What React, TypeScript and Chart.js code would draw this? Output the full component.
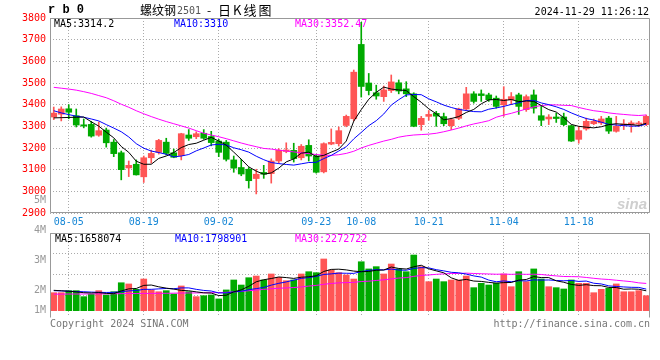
import React, { useEffect, useRef } from "react";
import { Chart, registerables } from "chart.js";
Chart.register(...registerables);

// ---------- data ----------
const DATES = [
  "08-01","08-02","08-05","08-06","08-07","08-08","08-09","08-12","08-13","08-14",
  "08-15","08-16","08-19","08-20","08-21","08-22","08-23","08-26","08-27","08-28",
  "08-29","08-30","09-02","09-03","09-04","09-05","09-06","09-09","09-10","09-11",
  "09-12","09-13","09-18","09-19","09-20","09-23","09-24","09-25","09-26","09-27",
  "09-30","10-08","10-09","10-10","10-11","10-14","10-15","10-16","10-17","10-18",
  "10-21","10-22","10-23","10-24","10-25","10-28","10-29","10-30","10-31","11-01",
  "11-04","11-05","11-06","11-07","11-08","11-11","11-12","11-13","11-14","11-15",
  "11-18","11-19","11-20","11-21","11-22","11-25","11-26","11-27","11-28","11-29",
];
const DATE_TICKS = ["08-05","08-19","09-02","09-23","10-08","10-21","11-04","11-18"];

const OPEN = [
  3343,3356,3381,3349,3307,3309,3259,3283,3227,3178,
  3108,3125,3067,3155,3180,3227,3178,3165,3260,3252,
  3268,3253,3232,3227,3145,3110,3102,3059,3087,3082,
  3140,3184,3189,3155,3212,3163,3090,3218,3220,3304,
  3335,3678,3500,3455,3437,3465,3501,3473,3450,3308,
  3346,3360,3345,3303,3337,3380,3450,3450,3445,3430,
  3399,3422,3445,3377,3445,3349,3334,3343,3343,3303,
  3240,3288,3312,3316,3338,3277,3305,3307,3311,3308,
];
const HIGH = [
  3389,3390,3400,3380,3334,3323,3320,3292,3239,3186,
  3140,3145,3163,3190,3240,3245,3195,3268,3285,3275,
  3285,3277,3240,3235,3163,3148,3110,3102,3120,3150,
  3197,3224,3222,3216,3238,3171,3224,3288,3297,3352,
  3560,3780,3544,3490,3486,3537,3514,3506,3455,3346,
  3373,3369,3361,3338,3384,3480,3460,3468,3453,3440,
  3483,3456,3453,3445,3468,3392,3354,3361,3361,3305,
  3300,3338,3334,3346,3346,3346,3331,3325,3323,3352,
];
const LOW = [
  3331,3325,3335,3297,3293,3250,3254,3204,3160,3053,
  3068,3075,3041,3130,3172,3168,3155,3145,3235,3243,
  3240,3210,3160,3140,3088,3072,3015,2988,3060,3038,
  3130,3178,3135,3145,3140,3084,3085,3215,3209,3298,
  3325,3435,3445,3425,3415,3456,3450,3437,3298,3282,
  3328,3300,3303,3285,3331,3373,3407,3415,3415,3384,
  3346,3400,3355,3369,3361,3303,3308,3318,3303,3230,
  3222,3282,3308,3308,3267,3273,3285,3273,3300,3303,
];
const CLOSE = [
  3361,3380,3365,3306,3301,3255,3280,3224,3174,3100,
  3120,3076,3155,3175,3235,3175,3157,3266,3245,3266,
  3245,3225,3180,3148,3107,3080,3049,3079,3079,3140,
  3190,3191,3151,3208,3163,3088,3220,3226,3280,3346,
  3550,3484,3465,3440,3468,3505,3463,3450,3300,3337,
  3355,3347,3312,3331,3380,3450,3415,3442,3423,3392,
  3425,3437,3392,3437,3384,3328,3343,3336,3308,3232,
  3280,3323,3323,3334,3278,3300,3311,3316,3315,3346,
];
const MA5 = [
  3339,3340,3341,3342,3343,3321,3301,3273,3247,3207,
  3180,3139,3125,3125,3152,3163,3179,3202,3216,3222,
  3236,3249,3232,3213,3181,3148,3113,3093,3079,3085,
  3107,3136,3150,3176,3181,3160,3166,3181,3195,3232,
  3324,3377,3425,3457,3481,3472,3468,3465,3437,3411,
  3381,3358,3330,3336,3345,3364,3378,3404,3422,3424,
  3419,3424,3414,3417,3415,3396,3377,3366,3340,3309,
  3300,3296,3293,3298,3308,3312,3309,3308,3304,3314.2,
];
const MA10 = [
  3372,3362,3354,3347,3342,3334,3325,3308,3292,3275,
  3251,3220,3199,3186,3179,3171,3159,3163,3170,3187,
  3200,3214,3217,3214,3201,3192,3181,3162,3146,3133,
  3128,3124,3121,3127,3133,3134,3151,3166,3186,3206,
  3242,3272,3303,3326,3357,3398,3423,3445,3447,3446,
  3427,3413,3398,3387,3378,3373,3368,3367,3379,3385,
  3392,3401,3409,3419,3420,3408,3400,3390,3378,3362,
  3348,3336,3329,3319,3309,3306,3303,3301,3301,3310,
];
const MA30 = [
  3480,3476,3472,3467,3460,3452,3442,3432,3418,3402,
  3388,3372,3358,3345,3333,3322,3312,3302,3292,3280,
  3268,3260,3252,3243,3233,3223,3214,3206,3198,3195,
  3190,3186,3182,3178,3174,3170,3167,3166,3169,3175,
  3185,3200,3212,3222,3232,3240,3250,3256,3260,3262,
  3264,3268,3275,3283,3292,3302,3311,3318,3326,3342,
  3352,3360,3370,3380,3390,3396,3399,3399,3397,3396,
  3387,3379,3372,3368,3362,3358,3355,3352,3350,3352.47,
];

// volume in millions of lots
const VOLUME = [
  1.50,1.50,1.67,1.67,1.17,1.37,1.67,1.31,1.58,2.33,
  2.23,1.78,2.64,1.73,1.58,1.67,1.39,2.06,1.58,1.17,
  1.25,1.31,0.98,1.73,2.56,2.14,2.75,2.89,2.56,3.06,
  2.78,2.50,2.56,3.06,3.25,3.17,4.31,3.39,3.17,2.98,
  2.64,4.08,3.48,3.67,3.06,3.89,3.48,3.25,4.64,3.67,
  2.42,2.64,2.42,2.56,2.56,2.89,1.92,2.28,2.14,2.28,
  3.06,2.00,3.25,2.42,3.48,2.64,2.00,1.92,1.81,2.56,
  2.28,2.28,1.50,1.78,1.87,2.23,1.58,1.58,1.67,1.25,
];
const VMA5 = [
  1.70,1.66,1.62,1.57,1.50,1.48,1.51,1.44,1.42,1.65,
  1.82,1.85,2.11,2.14,1.99,1.88,1.80,1.69,1.66,1.57,
  1.49,1.47,1.26,1.29,1.57,1.74,2.03,2.41,2.58,2.68,
  2.81,2.76,2.69,2.79,2.83,2.91,3.27,3.44,3.46,3.40,
  3.30,3.25,3.27,3.37,3.39,3.64,3.52,3.47,3.66,3.79,
  3.49,3.32,3.16,2.74,2.52,2.61,2.47,2.44,2.36,2.30,
  2.34,2.35,2.55,2.60,2.84,2.76,2.76,2.49,2.37,2.19,
  2.11,2.17,2.09,2.08,1.94,1.93,1.79,1.81,1.79,1.658,
];
const VMA10 = [
  1.67,1.65,1.62,1.60,1.58,1.55,1.53,1.52,1.53,1.58,
  1.65,1.68,1.78,1.78,1.82,1.85,1.83,1.90,1.90,1.78,
  1.69,1.64,1.48,1.48,1.57,1.62,1.75,1.84,1.94,2.13,
  2.28,2.40,2.55,2.69,2.76,2.86,3.02,3.07,3.13,3.12,
  3.11,3.26,3.36,3.42,3.40,3.47,3.39,3.37,3.52,3.59,
  3.57,3.42,3.32,3.20,3.16,3.05,2.90,2.80,2.55,2.41,
  2.48,2.41,2.50,2.48,2.57,2.55,2.56,2.52,2.49,2.52,
  2.44,2.47,2.29,2.23,2.07,2.02,1.98,1.95,1.94,1.799,
];
const VMA30 = [
  1.38,1.38,1.39,1.39,1.39,1.40,1.40,1.40,1.41,1.42,
  1.43,1.43,1.44,1.44,1.45,1.45,1.46,1.47,1.48,1.48,
  1.49,1.50,1.51,1.53,1.57,1.61,1.66,1.72,1.78,1.83,
  1.87,1.90,1.93,1.98,2.05,2.11,2.20,2.27,2.32,2.34,
  2.36,2.43,2.46,2.52,2.57,2.65,2.72,2.76,2.86,2.94,
  2.98,3.03,3.07,3.10,3.10,3.13,3.10,3.08,3.06,3.04,
  3.05,3.03,3.05,3.03,3.04,3.02,2.95,2.90,2.85,2.84,
  2.83,2.77,2.70,2.64,2.60,2.54,2.48,2.42,2.32,2.273,
];

const PRICE_MIN = 2900;
const PRICE_MAX = 3800;
const PRICE_STEP = 100;
const VOL_AXIS_LABELS = [1, 2, 3, 4, 5];

const TITLE_CODE = "r b 0";
const TITLE_NAME = "螺纹钢";
const TITLE_NUM = "2501";
const TITLE_DASH = "-";
const TITLE_KIND = "日K线图";
const TIMESTAMP = "2024-11-29 11:26:12";
const PRICE_LEGEND = ["MA5:3314.2", "MA10:3310", "MA30:3352.47"];
const VOL_LEGEND = ["MA5:1658074", "MA10:1798901", "MA30:2272722"];
const COPYRIGHT = "Copyright 2024 SINA.COM";
const SITE = "http://finance.sina.com.cn";

// ---------- styles ----------
const MONO = "'DejaVu Sans Mono', monospace";
const CJK = "'Noto Sans CJK SC', sans-serif";
const UP = "#ff5555";
const DOWN = "#00aa00";
const GRID = "#aaaaaa";
const FRAME = "#999999";
const MA_COLORS = ["#000000", "#0000ff", "#ff00ff"];
const candleColors = CLOSE.map((c, i) => (c >= OPEN[i] ? UP : DOWN));

function keepDateTicks(scale: any) {
  scale.ticks = scale.ticks.filter((t: any) => DATE_TICKS.includes(DATES[t.value]));
}

function maLine(label: string, data: number[], color: string, yAxisID: string) {
  return {
    type: "line" as const,
    label,
    data,
    yAxisID,
    borderColor: color,
    borderWidth: 1,
    pointRadius: 0,
    tension: 0,
    order: 0,
  };
}

function crispFrame(ctx: CanvasRenderingContext2D, a: any, bottomExtra: number, drawBottom: boolean) {
  const L = Math.floor(a.left) + 0.5;
  const R = Math.ceil(a.right) - 0.5;
  const T = Math.floor(a.top) + 0.5;
  const B = Math.ceil(a.bottom) - 0.5 + bottomExtra;
  ctx.save();
  ctx.strokeStyle = FRAME;
  ctx.lineWidth = 1;
  ctx.beginPath();
  ctx.moveTo(L, B);
  ctx.lineTo(L, T);
  ctx.lineTo(R, T);
  ctx.lineTo(R, B);
  if (drawBottom) ctx.lineTo(L, B);
  ctx.stroke();
  ctx.restore();
}

const pricePlugin = {
  id: "priceDecor",
  afterDraw(chart: any) {
    const ctx = chart.ctx as CanvasRenderingContext2D;
    const a = chart.chartArea;
    crispFrame(ctx, a, 0, true);
    ctx.save();
    ctx.textBaseline = "middle";
    ctx.textAlign = "left";
    ctx.fillStyle = "#000";
    ctx.font = `bold 12px 'Liberation Mono', monospace`;
    ctx.fillText(TITLE_CODE, 48, 10);
    let x = 140;
    ctx.font = `12px ${CJK}`;
    ctx.fillText(TITLE_NAME, x, 10);
    x += ctx.measureText(TITLE_NAME).width + 1;
    ctx.fillStyle = "#555";
    ctx.font = `10px ${MONO}`;
    ctx.fillText(TITLE_NUM, x, 11);
    ctx.fillStyle = "#000";
    ctx.font = `12px ${CJK}`;
    ctx.fillText(TITLE_DASH, 207, 10);
    (ctx as any).letterSpacing = "2px";
    ctx.font = `13px ${CJK}`;
    ctx.fillText(TITLE_KIND, 218, 10);
    (ctx as any).letterSpacing = "0px";
    ctx.font = `10px ${MONO}`;
    ctx.textAlign = "right";
    ctx.fillText(TIMESTAMP, 649, 12);
    ctx.textAlign = "left";
    const ly = a.top + 6;
    const lx = [a.left + 4, a.left + 124, a.left + 245];
    PRICE_LEGEND.forEach((t, i) => {
      ctx.fillStyle = MA_COLORS[i];
      ctx.fillText(t, lx[i], ly);
    });
    ctx.fillStyle = "#cfcfcf";
    ctx.font = `italic bold 15px 'Liberation Sans', sans-serif`;
    ctx.textAlign = "right";
    ctx.textBaseline = "alphabetic";
    ctx.fillText("sina", a.right - 3, a.bottom - 4);
    ctx.restore();
  },
};

const volPlugin = {
  id: "volDecor",
  afterDraw(chart: any) {
    const ctx = chart.ctx as CanvasRenderingContext2D;
    const a = chart.chartArea;
    crispFrame(ctx, a, 2, false);
    const lab = chart.scales.lab;
    const base = chart.scales.y.getPixelForValue(0);
    ctx.save();
    ctx.textBaseline = "middle";
    ctx.font = `10px ${MONO}`;
    ctx.textAlign = "right";
    ctx.fillStyle = "#999";
    VOL_AXIS_LABELS.forEach((v) => {
      const y = Math.min(lab.getPixelForValue(v), base);
      ctx.fillText(v + "M", a.left - 4, y);
    });
    ctx.textAlign = "left";
    const ly = a.top + 6;
    const lx = [a.left + 5, a.left + 125, a.left + 245];
    VOL_LEGEND.forEach((t, i) => {
      ctx.fillStyle = MA_COLORS[i];
      ctx.fillText(t, lx[i], ly);
    });
    ctx.fillStyle = "#777";
    ctx.fillText(COPYRIGHT, a.left, a.bottom + 8);
    ctx.textAlign = "right";
    ctx.fillText(SITE, a.right, a.bottom + 8);
    ctx.restore();
  },
};

function priceConfig(): any {
  return {
    type: "bar",
    data: {
      labels: DATES,
      datasets: [
        maLine("MA5", MA5, MA_COLORS[0], "y"),
        maLine("MA10", MA10, MA_COLORS[1], "y"),
        maLine("MA30", MA30, MA_COLORS[2], "y"),
        {
          type: "bar",
          label: "body",
          data: OPEN.map((o, i) => [o, CLOSE[i]]),
          backgroundColor: candleColors,
          barThickness: 6,
          minBarLength: 1,
          grouped: false,
          order: 1,
        },
        {
          type: "bar",
          label: "wick",
          data: LOW.map((l, i) => [l, HIGH[i]]),
          backgroundColor: candleColors,
          barThickness: 1,
          grouped: false,
          order: 2,
        },
      ],
    },
    options: {
      animation: false,
      responsive: false,
      devicePixelRatio: 1,
      layout: { padding: { top: 18, right: 10, left: 0, bottom: 0 } },
      plugins: { legend: { display: false }, tooltip: { enabled: false } },
      scales: {
        x: {
          type: "category",
          axis: "x",
          offset: true,
          afterBuildTicks: keepDateTicks,
          afterFit: (s: any) => { s.height = 19; },
          grid: { offset: false, color: GRID, drawTicks: false },
          border: { display: false, dash: [1, 2] },
          ticks: { autoSkip: false, maxRotation: 0, padding: 3, color: "#1787d6", font: { family: MONO, size: 10 } },
        },
        y: {
          type: "linear",
          axis: "y",
          min: PRICE_MIN,
          max: PRICE_MAX,
          afterFit: (s: any) => { s.width = 50; },
          grid: { color: GRID, drawTicks: false },
          border: { display: false, dash: [1, 2] },
          ticks: {
            stepSize: PRICE_STEP,
            padding: 4,
            color: "#ff0000",
            font: { family: MONO, size: 10 },
            callback: (v: any) => String(v),
          },
        },
      },
    },
    plugins: [pricePlugin],
  };
}

function volConfig(): any {
  return {
    type: "bar",
    data: {
      labels: DATES,
      datasets: [
        maLine("MA5", VMA5, MA_COLORS[0], "y"),
        maLine("MA10", VMA10, MA_COLORS[1], "y"),
        maLine("MA30", VMA30, MA_COLORS[2], "y"),
        {
          type: "bar",
          label: "volume",
          data: VOLUME,
          yAxisID: "y",
          backgroundColor: candleColors,
          barThickness: 6,
          order: 1,
        },
      ],
    },
    options: {
      animation: false,
      responsive: false,
      devicePixelRatio: 1,
      layout: { padding: { top: 43, right: 10, left: 50, bottom: 44 } },
      plugins: { legend: { display: false }, tooltip: { enabled: false } },
      scales: {
        x: {
          type: "category",
          axis: "x",
          offset: true,
          afterBuildTicks: keepDateTicks,
          afterFit: (s: any) => { s.height = 0; },
          grid: { offset: false, color: GRID, drawTicks: false },
          border: { display: false, dash: [1, 2] },
          ticks: { display: false },
        },
        y: { type: "linear", axis: "y", position: "left", display: false, min: -0.4417, max: 6.475 },
        lab: { type: "linear", axis: "y", position: "left", display: false, min: 1.1567, max: 3.9233 },
        g: {
          type: "linear",
          axis: "y",
          position: "left",
          min: 0,
          max: 4,
          afterFit: (s: any) => { s.width = 0; },
          grid: { drawTicks: false, color: (c: any) => (c.tick && c.tick.value === 0 ? "rgba(0,0,0,0)" : GRID) },
          border: { display: false, dash: [1, 2] },
          ticks: { display: false, stepSize: 1 },
        },
      },
    },
    plugins: [volPlugin],
  };
}

export default function App() {
  const priceRef = useRef<HTMLCanvasElement>(null);
  const volRef = useRef<HTMLCanvasElement>(null);
  useEffect(() => {
    const pc = new Chart(priceRef.current as HTMLCanvasElement, priceConfig());
    const vc = new Chart(volRef.current as HTMLCanvasElement, volConfig());
    return () => {
      pc.destroy();
      vc.destroy();
    };
  }, []);
  return (
    <div style={{ position: "fixed", left: 0, top: 0, width: 660, height: 360, background: "#fff", overflow: "hidden" }}>
      <canvas ref={priceRef} width={660} height={232} style={{ position: "absolute", left: 0, top: 0, width: 660, height: 232 }} />
      <canvas ref={volRef} width={660} height={170} style={{ position: "absolute", left: 0, top: 190, width: 660, height: 170 }} />
    </div>
  );
}
